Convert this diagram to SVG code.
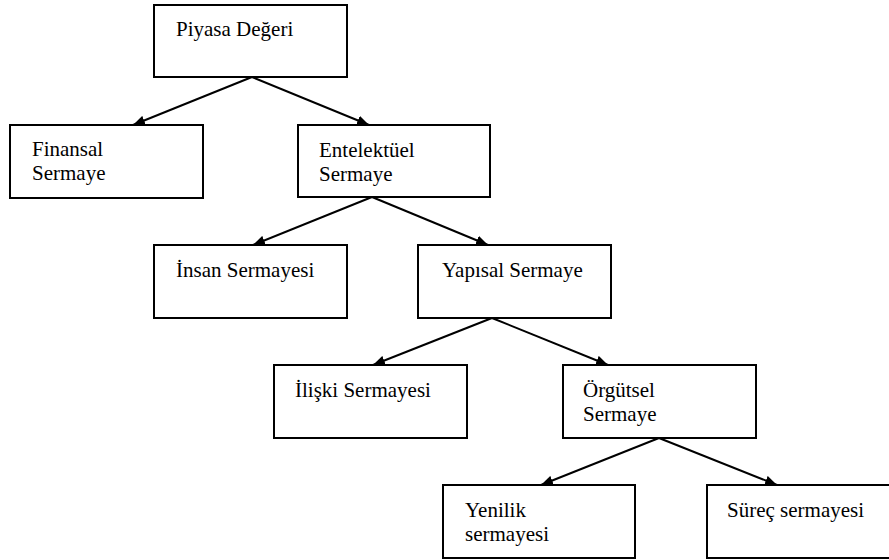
<svg xmlns="http://www.w3.org/2000/svg" width="889" height="560" viewBox="0 0 889 560">
<defs>
<marker id="arr" viewBox="0 0 12 10" refX="12" refY="5" markerWidth="12" markerHeight="10" markerUnits="userSpaceOnUse" orient="auto">
<path d="M0,0 L12,5 L0,10 z" fill="#000"/>
</marker>
</defs>
<style>
.box{fill:#fff;stroke:#000;stroke-width:2}
.t{font-family:"Liberation Serif","Times New Roman",serif;font-size:21px;fill:#000}
.c{stroke:#000;stroke-width:2;fill:none;marker-end:url(#arr)}
</style>
<rect width="889" height="560" fill="#fff"/>
<g id="connectors">
<line class="c" x1="252" y1="77" x2="133" y2="125"/>
<line class="c" x1="252" y1="77" x2="369" y2="125"/>
<line class="c" x1="372" y1="197" x2="253" y2="245"/>
<line class="c" x1="372" y1="197" x2="488" y2="245"/>
<line class="c" x1="492" y1="318" x2="373" y2="365"/>
<line class="c" x1="492" y1="318" x2="608" y2="365"/>
<line class="c" x1="659" y1="438" x2="541" y2="485"/>
<line class="c" x1="659" y1="438" x2="777" y2="485"/>
</g>
<g id="piyasa">
<rect class="box" x="154" y="5" width="193" height="72"/>
<text class="t" x="176" y="36">Piyasa Değeri</text>
</g>
<g id="finansal">
<rect class="box" x="10" y="125" width="193" height="73"/>
<text class="t" x="32" y="156">Finansal</text>
<text class="t" x="32" y="180">Sermaye</text>
</g>
<g id="entelektuel">
<rect class="box" x="298" y="125" width="192" height="72"/>
<text class="t" x="319" y="157">Entelektüel</text>
<text class="t" x="319" y="181">Sermaye</text>
</g>
<g id="insan">
<rect class="box" x="154" y="245" width="193" height="73"/>
<text class="t" x="176" y="277">İnsan Sermayesi</text>
</g>
<g id="yapisal">
<rect class="box" x="418" y="245" width="193" height="73"/>
<text class="t" x="442" y="277">Yapısal Sermaye</text>
</g>
<g id="iliski">
<rect class="box" x="274" y="365" width="193" height="73"/>
<text class="t" x="295" y="397">İlişki Sermayesi</text>
</g>
<g id="orgutsel">
<rect class="box" x="563" y="365" width="193" height="73"/>
<text class="t" x="583" y="397">Örgütsel</text>
<text class="t" x="583" y="421">Sermaye</text>
</g>
<g id="yenilik">
<rect class="box" x="443" y="485" width="192" height="73"/>
<text class="t" x="465" y="517">Yenilik</text>
<text class="t" x="465" y="541">sermayesi</text>
</g>
<g id="surec">
<rect class="box" x="707" y="485" width="200" height="73"/>
<text class="t" x="727" y="517">Süreç sermayesi</text>
</g>
</svg>
